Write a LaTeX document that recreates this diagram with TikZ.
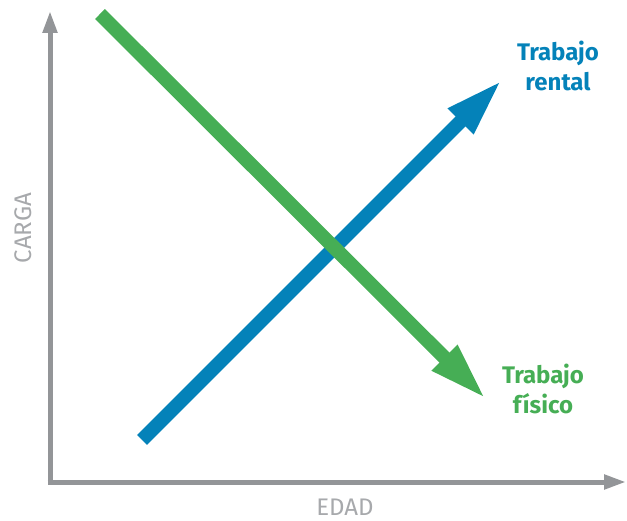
\documentclass[tikz,border=0pt]{standalone}
\usepackage{fontspec}
\setmainfont{Fira Sans}
\usetikzlibrary{arrows.meta}

\definecolor{axisgray}{HTML}{939598}
\definecolor{labelgray}{HTML}{A7A9AC}
\definecolor{rentalblue}{HTML}{0482B9}
\definecolor{fisicogreen}{HTML}{46AE55}

\begin{document}
\begin{tikzpicture}[x=1pt, y=-1pt,
    axis/.style={draw=axisgray, line width=5pt, -{Triangle[length=22pt, width=14pt]}},
    axislabel/.style={text=labelgray, font=\fontsize{24}{28}\selectfont},
    trend/.style={line width=14pt, -{Triangle[length=60pt, width=32pt]}},
    trendlabel/.style={font=\fontsize{24}{30}\selectfont\bfseries, align=center}]
    \useasboundingbox (0,0) rectangle (627,521);

    % Axes
    \coordinate (origin) at (50,482);
    \coordinate (ytip) at (50,11);
    \coordinate (xtip) at (626,482);
    \draw[axis] ([yshift=2.5pt]origin) -- (ytip);
    \draw[axis] ([xshift=-2.5pt]origin) -- (xtip);
    \node[axislabel] (edad) at (345,507) {EDAD};
    \node[axislabel, rotate=90] (carga) at (23,228) {CARGA};

    % Trend arrows (green one drawn over the blue one)
    \coordinate (rstart) at (142,440);
    \coordinate (rend) at (503,79);
    \coordinate (fstart) at (100,14);
    \coordinate (fend) at (487,400);
    \draw[trend, draw=rentalblue, fill=rentalblue] (rstart) -- (rend);
    \draw[trend, draw=fisicogreen, fill=fisicogreen] (fstart) -- (fend);

    % Labels
    \node[trendlabel, text=rentalblue] (rental) at (558,66) {Trabajo\\rental};
    \node[trendlabel, text=fisicogreen] (fisico) at (543,389) {Trabajo\\físico};
\end{tikzpicture}
\end{document}
